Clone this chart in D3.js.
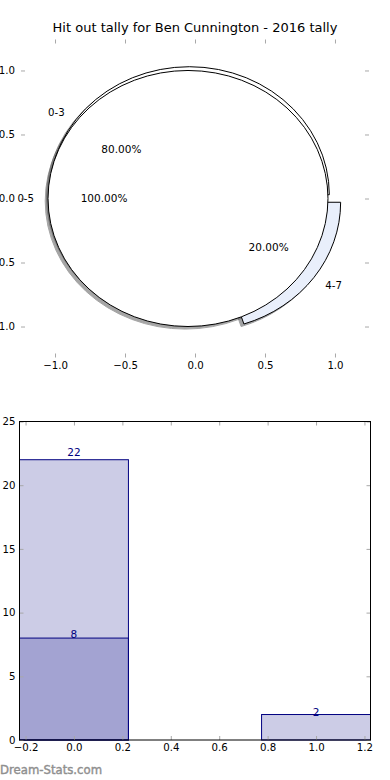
<!DOCTYPE html>
<html>
<head>
<meta charset="utf-8">
<script src="https://cdn.jsdelivr.net/npm/d3@7"></script>
<style>
  body { margin: 0; background: #fff; }
  svg { display: block; font-family: "DejaVu Sans", sans-serif; }
</style>
</head>
<body>
<div id="chart"></div>
<script>
"use strict";

// === Data ===
const chartTitle = "Hit out tally for Ben Cunnington - 2016 tally";

// split pie (exploded slices)
const splitLabels = ["0-3", "4-7"];
const splitValues = [80, 20];
const splitColors = ["#ffffff", "#e9effb"];

// whole pie drawn over it
const wholeLabels = ["0-5"];
const wholeValues = [100];
const wholeColors = ["#ffffff"];

const pieTicks = [-1, -0.5, 0, 0.5, 1];

// bar chart: total count and overlaid part count per bin
const barX = [0, 1];
const barTotal = [22, 2];
const barPartX = [0];
const barPart = [8];
const barXTicks = [-0.2, 0, 0.2, 0.4, 0.6, 0.8, 1.0, 1.2];
const barYTicks = [0, 5, 10, 15, 20, 25];

// === SVG setup ===
const W = 390, H = 780;
const svg = d3.select("#chart").append("svg")
  .attr("width", W)
  .attr("height", H);

// === Pie axes ===
const px = d3.scaleLinear().domain([-1.243, 1.243]).range([21, 369]);
const py = d3.scaleLinear().domain([-1.242, 1.242]).range([357.5, 39.5]);
const ux = px(1) - px(0), uy = py(0) - py(1); // px per unit (both positive)

svg.append("text")
  .attr("x", W / 2)
  .attr("y", 32)
  .attr("text-anchor", "middle")
  .attr("font-size", "13px")
  .text(chartTitle);

function styleAxis(g, fs) {
  g.select(".domain").remove();
  g.selectAll(".tick line").attr("stroke", "#a8a8a8");
  g.selectAll(".tick text").attr("font-size", fs).attr("fill", "#000")
    .attr("font-family", "DejaVu Sans");
}

const tickFs = "10.2px";
const labelFs = "10.2px";
const fmt1 = d3.format(".1f");
svg.append("g").attr("transform", `translate(0,${py.range()[0]})`)
  .call(d3.axisBottom(px).tickValues(pieTicks).tickSize(-4).tickPadding(4).tickFormat(fmt1))
  .call(g => styleAxis(g, tickFs));
svg.append("g").attr("transform", `translate(0,${py.range()[1]})`)
  .call(d3.axisTop(px).tickValues(pieTicks).tickSize(-4).tickFormat(""))
  .call(g => styleAxis(g, tickFs));
svg.append("g").attr("transform", `translate(${px.range()[0]},0)`)
  .call(d3.axisLeft(py).tickValues(pieTicks).tickSize(-4).tickPadding(6).tickFormat(fmt1))
  .call(g => styleAxis(g, tickFs));
svg.append("g").attr("transform", `translate(${px.range()[1]},0)`)
  .call(d3.axisRight(py).tickValues(pieTicks).tickSize(-4).tickFormat(""))
  .call(g => styleAxis(g, tickFs));

// layers: shadows below wedges, text on top
const shadowLayer = svg.append("g");
const wedgeLayer = svg.append("g");
const textLayer = svg.append("g");

// d3 angle a (clockwise from 12 o'clock) = PI/2 - theta (ccw from 3 o'clock)
const pieGen = d3.pie().sort(null)
  .startAngle(Math.PI / 2)
  .endAngle(Math.PI / 2 - 2 * Math.PI);
const arcGen = d3.arc().innerRadius(0).outerRadius(1);
const explode = 0.05;

function drawPie(values, labels, colors) {
  const total = d3.sum(values);
  pieGen(values).forEach((d, i) => {
    const mid = Math.PI / 2 - (d.startAngle + d.endAngle) / 2;
    const ox = explode * Math.cos(mid), oy = explode * Math.sin(mid);
    const c = d3.rgb(colors[i]);
    const sc = d3.rgb(c.r * 0.3, c.g * 0.3, c.b * 0.3);

    shadowLayer.append("path")
      .attr("transform", `translate(${px(ox - 0.02)},${py(oy - 0.02)}) scale(${ux},${uy})`)
      .attr("d", arcGen(d))
      .attr("fill", sc)
      .attr("stroke", sc)
      .attr("stroke-width", 1)
      .attr("vector-effect", "non-scaling-stroke")
      .attr("opacity", 0.5);

    wedgeLayer.append("path")
      .attr("transform", `translate(${px(ox)},${py(oy)}) scale(${ux},${uy})`)
      .attr("d", arcGen(d))
      .attr("fill", colors[i])
      .attr("stroke", "#000")
      .attr("stroke-width", 1)
      .attr("vector-effect", "non-scaling-stroke");

    const lx = ox + 1.1 * Math.cos(mid), ly = oy + 1.1 * Math.sin(mid);
    textLayer.append("text")
      .attr("x", px(lx))
      .attr("y", py(ly))
      .attr("dy", "0.36em")
      .attr("text-anchor", lx > 0 ? "start" : "end")
      .attr("font-size", labelFs)
      .text(labels[i]);

    textLayer.append("text")
      .attr("x", px(ox + 0.6 * Math.cos(mid)))
      .attr("y", py(oy + 0.6 * Math.sin(mid)))
      .attr("dy", "0.36em")
      .attr("text-anchor", "middle")
      .attr("font-size", "10.5px")
      .text(d3.format(".2f")(values[i] / total * 100) + "%");
  });
}

drawPie(splitValues, splitLabels, splitColors);
drawPie(wholeValues, wholeLabels, wholeColors);

// === Bar chart ===
const bx = d3.scaleLinear().domain([-0.225, 1.225]).range([19.5, 370.5]);
const by = d3.scaleLinear().domain([0, 25]).range([740, 421.5]);
const barW = 0.45;
const navy = "#000080";

function drawBars(xs, vs) {
  svg.append("g").selectAll("rect")
    .data(vs)
    .enter()
    .append("rect")
    .attr("x", (d, i) => bx(xs[i] - barW / 2))
    .attr("y", d => by(d))
    .attr("width", bx(barW) - bx(0))
    .attr("height", d => by(0) - by(d))
    .attr("fill", navy)
    .attr("fill-opacity", 0.2)
    .attr("stroke", navy)
    .attr("stroke-width", 1);
}
drawBars(barX, barTotal);
drawBars(barPartX, barPart);

function drawBarLabels(xs, vs) {
  svg.append("g").selectAll("text")
    .data(vs)
    .enter()
    .append("text")
    .attr("x", (d, i) => bx(xs[i]))
    .attr("y", d => by(d * 1.02) + 2)
    .attr("text-anchor", "middle")
    .attr("font-size", "10.5px")
    .attr("fill", navy)
    .text(d => d);
}
drawBarLabels(barX, barTotal);
drawBarLabels(barPartX, barPart);

svg.append("g").attr("transform", `translate(0,${by.range()[0]})`)
  .call(d3.axisBottom(bx).tickValues(barXTicks).tickSize(-4).tickPadding(4).tickFormat(fmt1))
  .call(g => styleAxis(g, tickFs));
svg.append("g").attr("transform", `translate(0,${by.range()[1]})`)
  .call(d3.axisTop(bx).tickValues(barXTicks).tickSize(-4).tickFormat(""))
  .call(g => styleAxis(g, tickFs));
svg.append("g").attr("transform", `translate(${bx.range()[0]},0)`)
  .call(d3.axisLeft(by).tickValues(barYTicks).tickSize(-4).tickPadding(4).tickFormat(d3.format("d")))
  .call(g => styleAxis(g, tickFs));
svg.append("g").attr("transform", `translate(${bx.range()[1]},0)`)
  .call(d3.axisRight(by).tickValues(barYTicks).tickSize(-4).tickFormat(""))
  .call(g => styleAxis(g, tickFs));

// frame
svg.append("rect")
  .attr("x", bx.range()[0])
  .attr("y", by.range()[1])
  .attr("width", bx.range()[1] - bx.range()[0])
  .attr("height", by.range()[0] - by.range()[1])
  .attr("fill", "none")
  .attr("stroke", "#000")
  .attr("stroke-width", 1);

// watermark
svg.append("text")
  .attr("x", 0)
  .attr("y", 774)
  .attr("font-size", "11.7px")
  .attr("fill", "#8f8f8f")
  .attr("stroke", "#8f8f8f")
  .attr("stroke-width", 0.4)
  .text("Dream-Stats.com");
</script>
</body>
</html>
